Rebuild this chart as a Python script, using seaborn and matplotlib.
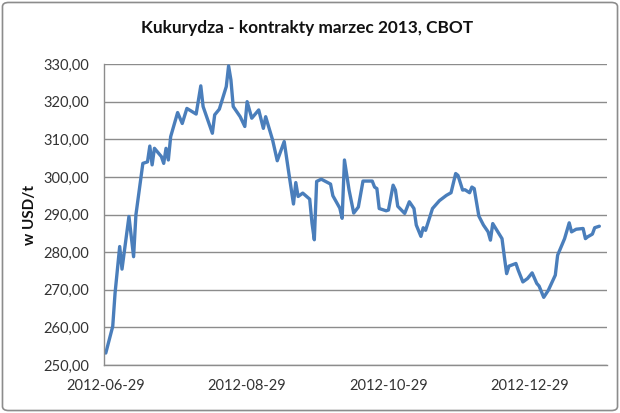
import matplotlib
matplotlib.use("Agg")
import matplotlib.pyplot as plt
import matplotlib.dates as mdates
from matplotlib.patches import FancyBboxPatch
from matplotlib.ticker import FuncFormatter, MultipleLocator
import pandas as pd
import seaborn as sns

# corn March 2013 futures, CBOT
dates = [
    "2012-06-29", "2012-07-02", "2012-07-03", "2012-07-05", "2012-07-06", "2012-07-09",
    "2012-07-11", "2012-07-12", "2012-07-15", "2012-07-17", "2012-07-18", "2012-07-19",
    "2012-07-20", "2012-07-23", "2012-07-24", "2012-07-25", "2012-07-26", "2012-07-27",
    "2012-07-30", "2012-08-01", "2012-08-03", "2012-08-07", "2012-08-09", "2012-08-10",
    "2012-08-14", "2012-08-15", "2012-08-17", "2012-08-20", "2012-08-21", "2012-08-22",
    "2012-08-23", "2012-08-26", "2012-08-28", "2012-08-29", "2012-08-31", "2012-09-03",
    "2012-09-05", "2012-09-06", "2012-09-09", "2012-09-11", "2012-09-14", "2012-09-16",
    "2012-09-18", "2012-09-19", "2012-09-20", "2012-09-22", "2012-09-25", "2012-09-26",
    "2012-09-27", "2012-09-28", "2012-09-30", "2012-10-04", "2012-10-05", "2012-10-08",
    "2012-10-09", "2012-10-10", "2012-10-12", "2012-10-14", "2012-10-16", "2012-10-18",
    "2012-10-22", "2012-10-23", "2012-10-24", "2012-10-25", "2012-10-28", "2012-10-29",
    "2012-10-31", "2012-11-01", "2012-11-02", "2012-11-05", "2012-11-07", "2012-11-09",
    "2012-11-10", "2012-11-12", "2012-11-13", "2012-11-14", "2012-11-17", "2012-11-20",
    "2012-11-23", "2012-11-25", "2012-11-27", "2012-11-28", "2012-11-30", "2012-12-01",
    "2012-12-03", "2012-12-04", "2012-12-05", "2012-12-07", "2012-12-09", "2012-12-11",
    "2012-12-12", "2012-12-13", "2012-12-17", "2012-12-18", "2012-12-19", "2012-12-20",
    "2012-12-23", "2012-12-24", "2012-12-26", "2012-12-28", "2012-12-30", "2013-01-01",
    "2013-01-02", "2013-01-04", "2013-01-06", "2013-01-09", "2013-01-10", "2013-01-13",
    "2013-01-15", "2013-01-16", "2013-01-18", "2013-01-21", "2013-01-22", "2013-01-23",
    "2013-01-25", "2013-01-26", "2013-01-28",
]
prices = [
    253.2, 260.3, 269.1, 281.5, 275.5, 289.5,
    278.8, 289.9, 303.6, 304.0, 308.2, 303.2,
    307.6, 305.4, 303.6, 307.6, 304.5, 310.7,
    317.1, 314.2, 318.2, 316.7, 324.2, 318.7,
    311.6, 316.5, 318.0, 324.0, 329.5, 325.8,
    318.7, 316.0, 313.4, 320.0, 315.6, 317.8,
    312.9, 316.0, 309.8, 304.3, 309.4, 301.0,
    292.8, 298.5, 294.8, 295.7, 294.1, 287.7,
    283.3, 298.8, 299.4, 298.1, 295.0, 291.7,
    289.0, 304.5, 296.5, 290.4, 292.0, 298.9,
    298.9, 297.3, 296.9, 291.6, 291.0, 291.2,
    297.8, 296.5, 292.2, 290.3, 293.4, 291.6,
    287.2, 284.2, 286.5, 285.8, 291.6, 293.7,
    295.1, 295.8, 300.9, 300.4, 296.5, 296.6,
    295.8, 297.3, 296.9, 289.6, 287.2, 285.4,
    283.2, 287.6, 283.6, 278.8, 274.3, 276.3,
    277.0, 275.2, 272.1, 273.0, 274.5, 271.7,
    271.0, 268.0, 269.9, 273.9, 279.2, 283.6,
    287.8, 285.4, 286.1, 286.3, 283.6, 284.1,
    284.8, 286.5, 286.9,
]
tick_dates = ["2012-06-29", "2012-08-29", "2012-10-29", "2012-12-29"]

df = pd.DataFrame({"data": pd.to_datetime(dates), "cena": prices})

sns.set_style("white")
plt.rcParams["font.family"] = ["Lato", "DejaVu Sans"]

fig = plt.figure(figsize=(6.2, 4.13), dpi=100)
ax = fig.add_axes([0.168, 0.116, 0.811, 0.729])

sns.lineplot(data=df, x="data", y="cena", ax=ax, color="#4a7ebb", linewidth=2.4)

start = pd.Timestamp("2012-06-29")
ax.set_xlim(start - pd.Timedelta(days=0.7), start + pd.Timedelta(days=216.3))
ax.set_ylim(250, 330)
ax.yaxis.set_major_locator(MultipleLocator(10))
ax.yaxis.set_major_formatter(FuncFormatter(lambda v, p: f"{v:.2f}".replace(".", ",")))
ax.set_xticks(pd.to_datetime(tick_dates))
ax.xaxis.set_major_formatter(mdates.DateFormatter("%Y-%m-%d"))
ax.tick_params(axis="both", length=0, labelsize=10.5, labelcolor="#333333")
ax.tick_params(axis="y", pad=11)
ax.tick_params(axis="x", pad=10)

ax.yaxis.grid(True, color="#8c8c8c", linewidth=1.0)
ax.xaxis.grid(False)
for side in ["top", "right"]:
    ax.spines[side].set_visible(False)
for side in ["left", "bottom"]:
    ax.spines[side].set_color("#8c8c8c")
    ax.spines[side].set_linewidth(1.0)

ax.set_xlabel("")
ax.set_ylabel("w USD/t", fontsize=11, weight="bold", color="#111111")
ax.yaxis.set_label_coords(-0.133, 0.5)
fig.text(0.495, 0.932, "Kukurydza - kontrakty marzec 2013, CBOT",
         ha="center", va="center", fontsize=12.4, weight="bold", color="#111111")

border = FancyBboxPatch((0.004, 0.006), 0.992, 0.988, boxstyle="round,pad=0,rounding_size=0.01",
                        transform=fig.transFigure, fill=False, edgecolor="#8c8c8c", linewidth=1.2)
fig.patches.append(border)

fig.savefig("out.png", dpi=100)
